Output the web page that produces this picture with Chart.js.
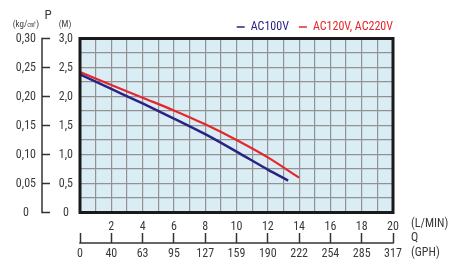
<!DOCTYPE html>
<html>
<head>
<meta charset="utf-8">
<script src="https://cdn.jsdelivr.net/npm/chart.js@4.4.1/dist/chart.umd.min.js"></script>
<style>
  html, body { margin: 0; padding: 0; background: #fff; }
  #wrap { width: 457px; height: 262px; }
</style>
</head>
<body>
<div id="wrap"><canvas id="pump-chart" width="457" height="262"></canvas></div>
<script>
// flow (L/min) against head (m)
const flow100 = [0, 2, 4, 6, 8, 10, 12, 13.3];
const head100 = [2.38, 2.13, 1.88, 1.62, 1.35, 1.05, 0.74, 0.55];
const flow220 = [0, 2, 4, 6, 8, 10, 12, 14];
const head220 = [2.42, 2.2, 1.98, 1.76, 1.52, 1.25, 0.95, 0.6];
const seriesNames = ['AC100V', 'AC120V, AC220V'];
const seriesColors = ['#2b2383', '#e5262b'];
// second row of flow labels, one per 2 L/min
const gphTicks = ['0', '40', '63', '95', '127', '159', '190', '222', '254', '285', '317'];

const FONT = "'Liberation Sans Narrow', 'Roboto Condensed', 'Liberation Sans', Arial, sans-serif";
Chart.defaults.font.family = FONT;
Chart.defaults.font.size = 12;
Chart.defaults.color = '#3a3a3a';

const comma = (v, d) => v === 0 ? '0' : v.toFixed(d).replace('.', ',');
const toPoints = (xs, ys) => xs.map((x, i) => ({ x: x, y: ys[i] }));

// background, frame, extra axis lines and unit captions
const extras = {
  id: 'extras',
  afterLayout(chart) {
    // legend in the original runs right up to the frame edge
    if (chart.legend) {
      chart.legend.left += 10;
      chart.legend.right += 10;
    }
  },
  beforeDraw(chart) {
    const { ctx, chartArea: a } = chart;
    ctx.save();
    ctx.fillStyle = '#daedf5';
    ctx.fillRect(a.left, a.top, a.right - a.left, a.bottom - a.top);
    ctx.restore();
  },
  afterDraw(chart) {
    const { ctx, chartArea: a, scales } = chart;
    ctx.save();
    ctx.strokeStyle = '#1a1a1a';
    ctx.lineWidth = 3;
    ctx.strokeRect(a.left, a.top, a.right - a.left, a.bottom - a.top);

    ctx.strokeStyle = '#333';
    ctx.lineWidth = 1.5;
    const kg = scales.kg;
    const xk = kg.right - 8;
    ctx.beginPath();
    ctx.moveTo(xk, kg.getPixelForValue(0.3) - 0.75);
    ctx.lineTo(xk, kg.getPixelForValue(0) + 0.75);
    ctx.stroke();

    const g = scales.gph;
    const yg = g.top + 10;
    ctx.beginPath();
    ctx.moveTo(g.getPixelForValue(0) - 0.75, yg);
    ctx.lineTo(g.getPixelForValue(20) + 0.75, yg);
    ctx.stroke();

    ctx.fillStyle = '#3a3a3a';
    ctx.textBaseline = 'middle';
    ctx.textAlign = 'left';
    ctx.font = '12px ' + FONT;
    ctx.fillText('(L/MIN)', a.right + 18, scales.x.top + 11);
    ctx.fillText('Q', a.right + 18, g.top + 5);
    ctx.fillText('(GPH)', a.right + 18, g.top + 20);

    ctx.textAlign = 'center';
    ctx.font = '13px ' + FONT;
    ctx.fillText('P', 48, 16);
    ctx.font = '9px ' + FONT;
    ctx.fillText('(kg/㎠)', 26, 25);
    ctx.fillText('(M)', 65, 25);
    ctx.restore();
  }
};

const legendItems = chart =>
  Chart.defaults.plugins.legend.labels.generateLabels(chart).map((it, i) => ({
    ...it, lineWidth: 1.5, fontColor: seriesColors[i]
  }));

new Chart(document.getElementById('pump-chart'), {
  type: 'line',
  data: {
    datasets: [
      { label: seriesNames[0], data: toPoints(flow100, head100), borderColor: seriesColors[0],
        backgroundColor: seriesColors[0], borderWidth: 2.5, pointRadius: 0, cubicInterpolationMode: 'monotone' },
      { label: seriesNames[1], data: toPoints(flow220, head220), borderColor: seriesColors[1],
        backgroundColor: seriesColors[1], borderWidth: 2.2, pointRadius: 0, cubicInterpolationMode: 'monotone' }
    ]
  },
  options: {
    responsive: false,
    devicePixelRatio: 1,
    animation: false,
    layout: { padding: { top: 11, right: 64, left: 0, bottom: 0 } },
    plugins: {
      tooltip: { enabled: false },
      legend: {
        position: 'top',
        align: 'end',
        maxHeight: 27.5,
        labels: {
          usePointStyle: true,
          pointStyle: 'line',
          pointStyleWidth: 8,
          boxHeight: 8,
          padding: 10,
          font: { size: 12 },
          generateLabels: legendItems
        }
      }
    },
    scales: {
      x: {
        type: 'linear', position: 'bottom', min: 0, max: 20, weight: 0,
        grid: { color: '#929292', lineWidth: 1.2, drawTicks: false },
        border: { display: false },
        ticks: { stepSize: 1, autoSkip: false, maxRotation: 0, padding: 7,
          callback: v => (v > 0 && v % 2 === 0) ? String(v) : '' },
        afterFit: s => { s.height = 20.5; }
      },
      gph: {
        type: 'linear', position: 'bottom', min: 0, max: 20, weight: 1,
        grid: { drawOnChartArea: false, tickLength: 10, tickColor: '#333', tickWidth: 1.5 },
        border: { display: false },
        ticks: { stepSize: 2, autoSkip: false, maxRotation: 0, padding: 4,
          callback: v => gphTicks[Math.round(v / 2)] },
        afterFit: s => { s.height = 29; }
      },
      y: {
        type: 'linear', position: 'left', min: 0, max: 3, weight: 0,
        grid: { color: '#929292', lineWidth: 1.2, drawTicks: false },
        border: { display: false },
        ticks: { stepSize: 0.25, autoSkip: false, crossAlign: 'center', padding: 7,
          callback: v => (Math.round(v * 4) % 2 === 0) ? comma(v, 1) : '' },
        afterFit: s => { s.width = 30; }
      },
      kg: {
        type: 'linear', position: 'left', min: 0, max: 0.3, weight: 1,
        grid: { drawOnChartArea: false, tickLength: 8, tickColor: '#333', tickWidth: 1.5 },
        border: { display: false },
        ticks: { stepSize: 0.05, autoSkip: false, crossAlign: 'center', padding: 6,
          callback: v => comma(v, 2) },
        afterFit: s => { s.width = 50; }
      }
    }
  },
  plugins: [extras]
});
</script>
</body>
</html>
